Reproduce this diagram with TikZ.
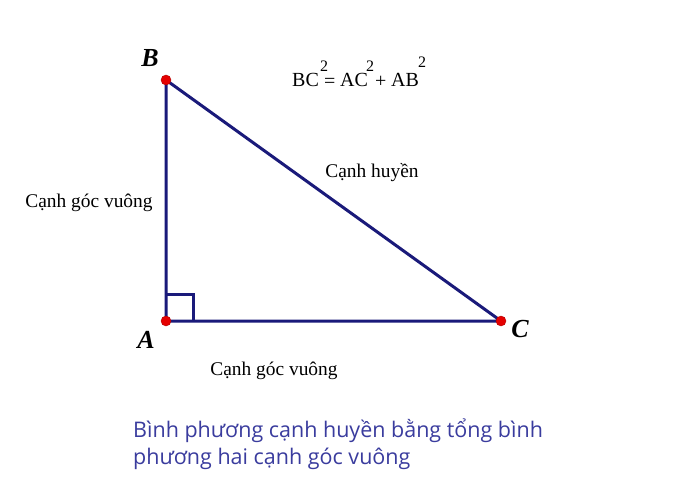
\documentclass[tikz,border=0pt]{standalone}
\usepackage{fontspec}
\setmainfont{Liberation Serif}
\newfontfamily\capfont{Open Sans}
\begin{document}
\begin{tikzpicture}[x=1pt,y=-1pt,
  side/.style={draw=navyline,line width=3pt},
  pt/.style={circle,fill=red!90!black,draw=red!70!black,inner sep=0pt,minimum size=10pt},
  vlabel/.style={font=\fontsize{26}{28}\selectfont\bfseries\itshape,inner sep=0pt},
  lbl/.style={font=\fontsize{19.4}{22}\selectfont,inner sep=0pt},
  eq/.style={font=\fontsize{20}{22}\selectfont,inner sep=0pt,anchor=base west},
  sup/.style={font=\fontsize{16}{20}\selectfont,inner sep=0pt,anchor=base west}]
\definecolor{navyline}{HTML}{1A1A7A}
\definecolor{capblue}{HTML}{3A3C9E}
\useasboundingbox[fill=white] (0,0) rectangle (696,500);
\coordinate (A) at (166,321);
\coordinate (B) at (166,80);
\coordinate (C) at (501,321);
\coordinate (q1) at (193,321);
\coordinate (q2) at (193,294);
\coordinate (q3) at (166,294);
\draw[side,line join=miter] (q1) -- (q2) -- (q3);
\draw[side,line join=round] (A) -- (B) -- (C) -- cycle;
\node[pt] (pA) at (A) {};
\node[pt] (pB) at (B) {};
\node[pt] (pC) at (C) {};
\node[vlabel] (lB) at (150,58) {B};
\node[vlabel] (lA) at (146,340) {A};
\node[vlabel] (lC) at (520,329) {C};
\node[eq] (e1) at (292,87) {BC};
\node[sup] (s1) at (320,72) {2};
\node[eq] (e2) at (324,88) {=};
\node[eq] (e3) at (340,87) {AC};
\node[sup] (s2) at (366,72) {2};
\node[eq] (e4) at (375,88) {+};
\node[eq] (e5) at (391,87) {AB};
\node[sup] (s3) at (418,68) {2};
\node[lbl] (h) at (372,173) {Cạnh huyền};
\node[lbl] (l1) at (89,203) {Cạnh góc vuông};
\node[lbl] (l2) at (274,371) {Cạnh góc vuông};
\node[font=\capfont\fontsize{21.5}{27}\selectfont,text=capblue,align=left,anchor=north west,inner sep=0pt] (cap) at (133,419) {Bình phương cạnh huyền bằng tổng bình\\phương hai cạnh góc vuông};
\end{tikzpicture}
\end{document}
